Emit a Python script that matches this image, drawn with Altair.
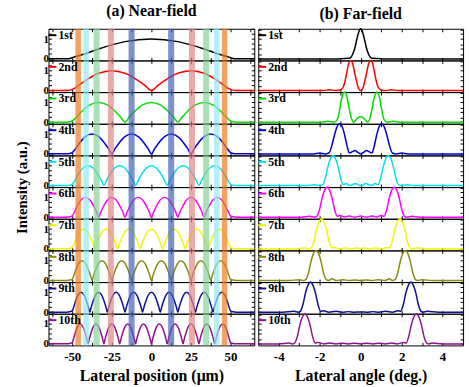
import altair as alt
import pandas as pd

FONT = "Liberation Serif"

MODE_LABELS = ["1st", "2nd", "3rd", "4th", "5th", "6th", "7th", "8th", "9th", "10th"]
MODE_COLORS = ["#000000", "#ff0000", "#00dd00", "#0000d0", "#00e0f0",
               "#ff00ff", "#f5f500", "#8a8a10", "#101090", "#901090"]

# Near-field: zero positions of each mode (um)
NF_ZEROS = [
    [-50, 50],
    [-50, 0, 50],
    [-50, -16.7, 16.7, 50],
    [-50, -25, 0, 25, 50],
    [-50, -30, -10, 10, 30, 50],
    [-50, -33.3, -16.7, 0, 16.7, 33.3, 50],
    [-50, -35.7, -21.4, -7.1, 7.1, 21.4, 35.7, 50],
    [-50, -37.5, -25, -12.5, 0, 12.5, 25, 37.5, 50],
    [-50, -38.9, -27.8, -16.7, -5.6, 5.6, 16.7, 27.8, 38.9, 50],
    [-50, -40, -30, -20, -10, 0, 10, 20, 30, 40, 50],
]
# shape of one lobe (fraction of lobe width, intensity)
LOBE_FRAC = [0.0, 0.083, 0.167, 0.333, 0.5, 0.667, 0.833, 0.917]
LOBE_Y = [0.0, 0.26, 0.5, 0.87, 1.0, 0.87, 0.5, 0.26]
TAIL_X = [65, 53.5, 51.5]
TAIL_Y = [0.0, 0.0, 0.02]
EDGE_Y = 0.06

# Coloured bands on the near-field panel (um)
BAND_LO = [-48.0, -43.0, -36.5, -27.5, -14.4, 10.6, 23.7, 32.7, 39.5, 44.5]
BAND_HI = [-44.5, -39.5, -32.7, -23.7, -10.6, 14.4, 27.5, 36.5, 43.0, 48.0]
BAND_COLORS = ["#ee7e22", "#94eaf8", "#86d49b", "#e28686", "#4562b8",
               "#4562b8", "#e28686", "#86d49b", "#94eaf8", "#ee7e22"]

# Far-field profiles (deg, normalised intensity)
FF_POINTS = [
    [(-5, 0), (-1.2, 0), (-0.9, 0.01), (-0.55, 0.02), (-0.4, 0.14), (-0.3, 0.32), (-0.2, 0.61),
     (-0.1, 0.88), (0, 1), (0.1, 0.88), (0.2, 0.61), (0.3, 0.32), (0.4, 0.14), (0.55, 0.02),
     (0.9, 0.01), (1.2, 0), (5, 0)],
    [(-5, 0), (-1.8, 0), (-1.5, 0.03), (-1.25, 0), (-1.0, 0.02), (-0.85, 0.12), (-0.75, 0.35),
     (-0.65, 0.7), (-0.57, 0.93), (-0.48, 1), (-0.39, 0.9), (-0.3, 0.62), (-0.2, 0.3), (-0.1, 0.07),
     (0, 0), (0.1, 0.07), (0.2, 0.3), (0.3, 0.62), (0.39, 0.9), (0.48, 1), (0.57, 0.93), (0.65, 0.7),
     (0.75, 0.35), (0.85, 0.12), (1.0, 0.02), (1.25, 0), (1.5, 0.03), (1.8, 0), (5, 0)],
    [(-5, 0), (-1.9, 0), (-1.6, 0.03), (-1.3, 0), (-1.15, 0.08), (-1.03, 0.4), (-0.92, 0.82),
     (-0.78, 1), (-0.65, 0.78), (-0.55, 0.42), (-0.45, 0.12), (-0.35, 0), (-0.2, 0.1), (-0.1, 0.16),
     (0, 0.18), (0.1, 0.16), (0.2, 0.1), (0.35, 0), (0.45, 0.12), (0.55, 0.42), (0.65, 0.78),
     (0.78, 1), (0.92, 0.82), (1.03, 0.4), (1.15, 0.08), (1.3, 0), (1.6, 0.03), (1.9, 0), (5, 0)],
    [(-5, 0), (-2.3, 0), (-2.0, 0.03), (-1.75, 0), (-1.55, 0.03), (-1.42, 0.25), (-1.28, 0.62),
     (-1.15, 0.9), (-1.03, 1), (-0.9, 0.9), (-0.78, 0.62), (-0.66, 0.25), (-0.55, 0.03),
     (-0.42, 0.07), (-0.28, 0.11), (-0.14, 0.05), (0, 0), (0.14, 0.05), (0.28, 0.11), (0.42, 0.07),
     (0.55, 0.03), (0.66, 0.25), (0.78, 0.62), (0.9, 0.9), (1.03, 1), (1.15, 0.9), (1.28, 0.62),
     (1.42, 0.25), (1.55, 0.03), (1.75, 0), (2.0, 0.03), (2.3, 0), (5, 0)],
    [(-5, 0), (-2.6, 0), (-2.25, 0.03), (-2.0, 0), (-1.85, 0.03), (-1.72, 0.25), (-1.6, 0.62),
     (-1.47, 0.9), (-1.35, 1), (-1.23, 0.9), (-1.1, 0.62), (-0.98, 0.25), (-0.85, 0.03),
     (-0.7, 0.07), (-0.55, 0.01), (-0.4, 0.03), (-0.25, 0.07), (-0.12, 0.03), (0, 0),
     (0.12, 0.03), (0.25, 0.07), (0.4, 0.03), (0.55, 0.01), (0.7, 0.07), (0.85, 0.03),
     (0.98, 0.25), (1.1, 0.62), (1.23, 0.9), (1.35, 1), (1.47, 0.9), (1.6, 0.62), (1.72, 0.25),
     (1.85, 0.03), (2.0, 0), (2.25, 0.03), (2.6, 0), (5, 0)],
    [(-5, 0), (-2.9, 0), (-2.5, 0.03), (-2.25, 0), (-2.14, 0.03), (-2.01, 0.25), (-1.89, 0.62),
     (-1.76, 0.9), (-1.64, 1), (-1.52, 0.9), (-1.39, 0.62), (-1.27, 0.25), (-1.14, 0.03),
     (-1.0, 0.06), (-0.8, 0.01), (-0.55, 0.04), (-0.3, 0), (0, 0.04), (0.3, 0), (0.55, 0.04),
     (0.8, 0.01), (1.0, 0.06), (1.14, 0.03), (1.27, 0.25), (1.39, 0.62), (1.52, 0.9), (1.64, 1),
     (1.76, 0.9), (1.89, 0.62), (2.01, 0.25), (2.14, 0.03), (2.25, 0), (2.5, 0.03), (2.9, 0), (5, 0)],
    [(-5, 0), (-3.2, 0), (-2.75, 0.03), (-2.5, 0), (-2.41, 0.03), (-2.28, 0.25), (-2.16, 0.62),
     (-2.03, 0.9), (-1.91, 1), (-1.79, 0.9), (-1.66, 0.62), (-1.54, 0.25), (-1.41, 0.03),
     (-1.28, 0.05), (-1.05, 0), (-0.75, 0.03), (-0.45, 0), (-0.2, 0.03), (0, 0.01), (0.2, 0.03),
     (0.45, 0), (0.75, 0.03), (1.05, 0), (1.28, 0.05), (1.41, 0.03), (1.54, 0.25), (1.66, 0.62),
     (1.79, 0.9), (1.91, 1), (2.03, 0.9), (2.16, 0.62), (2.28, 0.25), (2.41, 0.03), (2.5, 0),
     (2.75, 0.03), (3.2, 0), (5, 0)],
    [(-5, 0), (-3.5, 0), (-3.0, 0.03), (-2.78, 0), (-2.68, 0.03), (-2.55, 0.25), (-2.43, 0.62),
     (-2.3, 0.9), (-2.18, 1), (-2.06, 0.9), (-1.93, 0.62), (-1.81, 0.25), (-1.68, 0.03),
     (-1.55, 0), (-1.4, 0.06), (-1.2, 0), (-0.85, 0.03), (-0.55, 0), (-0.3, 0.02), (0, 0),
     (0.3, 0.02), (0.55, 0), (0.85, 0.03), (1.2, 0), (1.4, 0.06), (1.55, 0), (1.68, 0.03),
     (1.81, 0.25), (1.93, 0.62), (2.06, 0.9), (2.18, 1), (2.3, 0.9), (2.43, 0.62), (2.55, 0.25),
     (2.68, 0.03), (2.78, 0), (3.0, 0.03), (3.5, 0), (5, 0)],
    [(-5, 0), (-3.8, 0), (-3.25, 0.03), (-3.05, 0), (-2.95, 0.03), (-2.82, 0.25), (-2.7, 0.62),
     (-2.57, 0.9), (-2.45, 1), (-2.33, 0.9), (-2.2, 0.62), (-2.08, 0.25), (-1.95, 0.03),
     (-1.82, 0.05), (-1.55, 0), (-1.2, 0.03), (-0.9, 0), (-0.6, 0.02), (-0.3, 0), (0, 0.01),
     (0.3, 0), (0.6, 0.02), (0.9, 0), (1.2, 0.03), (1.55, 0), (1.82, 0.05), (1.95, 0.03),
     (2.08, 0.25), (2.2, 0.62), (2.33, 0.9), (2.45, 1), (2.57, 0.9), (2.7, 0.62), (2.82, 0.25),
     (2.95, 0.03), (3.05, 0), (3.25, 0.03), (3.8, 0), (5, 0)],
    [(-5, 0), (-4.0, 0), (-3.5, 0.03), (-3.32, 0), (-3.22, 0.03), (-3.09, 0.25), (-2.97, 0.62),
     (-2.84, 0.9), (-2.72, 1), (-2.6, 0.9), (-2.47, 0.62), (-2.35, 0.25), (-2.22, 0.03),
     (-2.08, 0.05), (-1.8, 0), (-1.5, 0.03), (-1.2, 0), (-0.9, 0.02), (-0.6, 0), (-0.3, 0.02),
     (0, 0), (0.3, 0.02), (0.6, 0), (0.9, 0.02), (1.2, 0), (1.5, 0.03), (1.8, 0), (2.08, 0.05),
     (2.22, 0.03), (2.35, 0.25), (2.47, 0.62), (2.6, 0.9), (2.72, 1), (2.84, 0.9), (2.97, 0.62),
     (3.09, 0.25), (3.22, 0.03), (3.32, 0), (3.5, 0.03), (4.0, 0), (5, 0)],
]

NF_XTICKS = [-62.5, -50, -37.5, -25, -12.5, 0, 12.5, 25, 37.5, 50, 62.5]
FF_XTICKS = [-4, -3, -2, -1, 0, 1, 2, 3, 4]
NF_YTICKS = [0, 0.25, 0.5, 0.75, 1.0, 1.25, 1.5]
FF_YTICKS = [0, 0.16, 0.33, 0.49, 0.66, 0.82, 0.98]

W_L, W_R, H = 208, 207, 32
TICK = {"expr": "-3"}

X_NF = alt.Scale(domain=[-65, 65], nice=False, zero=False)
Y_NF = alt.Scale(domain=[-0.08, 1.52], nice=False, zero=False)
X_FF = alt.Scale(domain=[-5, 5], nice=False, zero=False)
Y_FF = alt.Scale(domain=[-0.05, 1.0], nice=False, zero=False)


def near_field_df(zeros):
    xs = [-t for t in TAIL_X]
    ys = list(TAIL_Y)
    for a, b in zip(zeros[:-1], zeros[1:]):
        for f, v in zip(LOBE_FRAC, LOBE_Y):
            xs.append(a + f * (b - a))
            ys.append(v)
    xs.append(zeros[-1])
    ys.append(0.0)
    ys[len(TAIL_X)] = EDGE_Y
    ys[-1] = EDGE_Y
    xs += list(reversed(TAIL_X))
    ys += list(reversed(TAIL_Y))
    return pd.DataFrame({"x": xs, "y": ys})


def x_axis(orient, values, label_expr, show_labels, title=None):
    kw = dict(orient=orient, values=values, tickSize=TICK, tickColor="black", tickWidth=1,
              domain=False, grid=False, labels=show_labels, labelExpr=label_expr,
              labelFont=FONT, labelFontSize=13, labelFontWeight="bold", labelColor="black",
              labelPadding=8, labelFlush=False, labelOverlap=False)
    if title:
        kw.update(title=title, titleFont=FONT, titleFontSize=16, titleFontWeight="bold",
                  titleColor="black", titlePadding=4)
    else:
        kw["title"] = None
    return alt.Axis(**kw)


def y_axis(orient, values, show_labels, title=None):
    kw = dict(orient=orient, values=values, tickSize=TICK, tickColor="black", tickWidth=1,
              domain=False, grid=False, labels=show_labels,
              labelExpr="datum.value == 0 ? '0' : (datum.value == 1 ? '1' : '')",
              labelFont=FONT, labelFontSize=11, labelFontWeight="bold", labelColor="black",
              labelPadding=3, labelFlush=False, labelOverlap=False)
    if title:
        kw.update(title=title, titleAngle=270, titleX=-27, titleY=0, titleAlign="center",
                  titleBaseline="middle", titleFont=FONT, titleFontSize=15,
                  titleFontWeight="bold", titleColor="black")
    else:
        kw["title"] = None
    return alt.Axis(**kw)


NF_LABEL_EXPR = "datum.value % 25 == 0 ? replace(datum.label, '\u2212', '-') : ''"
FF_LABEL_EXPR = "datum.value % 2 == 0 ? replace(datum.label, '\u2212', '-') : ''"

band_df = pd.DataFrame({"lo": BAND_LO, "hi": BAND_HI, "c": BAND_COLORS})


def legend_layers(i):
    lab = pd.DataFrame({"label": [MODE_LABELS[i]]})
    rule = alt.Chart(lab).mark_rule(color=MODE_COLORS[i], strokeWidth=2).encode(
        x=alt.value(0), x2=alt.value(8), y=alt.value(6.5))
    text = alt.Chart(lab).mark_text(align="left", baseline="middle", font=FONT,
                                    fontWeight="bold", fontSize=12, color="black").encode(
        x=alt.value(10), y=alt.value(6.5), text="label:N")
    return rule, text


def col_title(txt):
    return alt.TitleParams(text=txt, font=FONT, fontSize=16, fontWeight="bold",
                           anchor="middle", frame="group", offset=4, color="black")


cells = []
for i in range(10):
    last = i == 9
    nf = alt.Chart(near_field_df(NF_ZEROS[i]))
    line = nf.mark_line(color=MODE_COLORS[i], strokeWidth=1.5, interpolate="monotone").encode(
        x=alt.X("x:Q", scale=X_NF,
                axis=x_axis("bottom", NF_XTICKS, NF_LABEL_EXPR, last,
                            "Lateral position (\u03bcm)" if last else None)),
        y=alt.Y("y:Q", scale=Y_NF,
                axis=y_axis("left", NF_YTICKS, True, "Intensity (a.u.)" if i == 5 else None)))
    ghost = nf.mark_line(opacity=0).encode(
        x=alt.X("x:Q", scale=X_NF, axis=x_axis("top", NF_XTICKS, NF_LABEL_EXPR, False)),
        y=alt.Y("y:Q", scale=Y_NF, axis=y_axis("right", NF_YTICKS, False)))
    bands = alt.Chart(band_df).mark_rect(opacity=0.7).encode(
        x=alt.X("lo:Q", scale=X_NF, axis=None), x2="hi:Q",
        y=alt.value(0), y2=alt.value("height"),
        color=alt.Color("c:N", scale=None))
    r, t = legend_layers(i)
    lc = (alt.layer(line, ghost, bands, r, t)
          .resolve_axis(x="independent", y="independent"))
    if i == 0:
        lc = lc.properties(width=W_L, height=H, title=col_title("(a) Near-field"))
    else:
        lc = lc.properties(width=W_L, height=H)
    cells.append(lc)

    ff_df = pd.DataFrame(FF_POINTS[i], columns=["x", "y"])
    ff = alt.Chart(ff_df)
    fline = ff.mark_line(color=MODE_COLORS[i], strokeWidth=1.5, interpolate="monotone").encode(
        x=alt.X("x:Q", scale=X_FF,
                axis=x_axis("bottom", FF_XTICKS, FF_LABEL_EXPR, last,
                            "Lateral angle (deg.)" if last else None)),
        y=alt.Y("y:Q", scale=Y_FF, axis=y_axis("left", FF_YTICKS, False)))
    fghost = ff.mark_line(opacity=0).encode(
        x=alt.X("x:Q", scale=X_FF, axis=x_axis("top", FF_XTICKS, FF_LABEL_EXPR, False)),
        y=alt.Y("y:Q", scale=Y_FF, axis=y_axis("right", FF_YTICKS, False)))
    r2, t2 = legend_layers(i)
    rc = (alt.layer(fline, fghost, r2, t2)
          .resolve_axis(x="independent", y="independent"))
    if i == 0:
        rc = rc.properties(width=W_R, height=H, title=col_title("(b) Far-field"))
    else:
        rc = rc.properties(width=W_R, height=H)
    cells.append(rc)

chart = (alt.concat(*cells, columns=2, spacing={"row": 0, "column": 4}, bounds="flush")
         .resolve_scale(x="independent", y="independent")
         .properties(padding={"left": 14, "top": 0, "right": 2, "bottom": 4},
                     background="white")
         .configure_view(stroke="black", strokeWidth=1))

chart.save("out.html", embed_options={"renderer": "svg", "actions": False})
